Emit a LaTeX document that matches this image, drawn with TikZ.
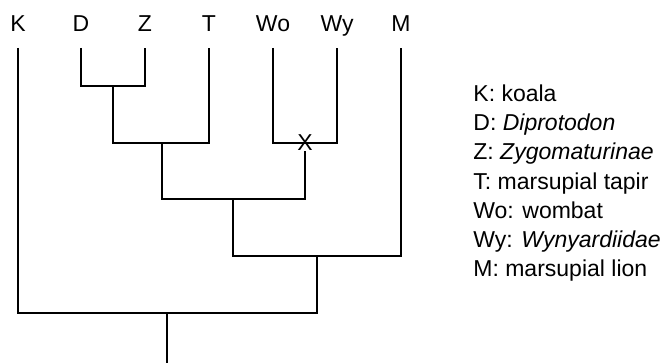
\documentclass[tikz,border=0pt]{standalone}
\usepackage{fontspec}
\setmainfont{Liberation Sans}
\usetikzlibrary{positioning}

\begin{document}
\begin{tikzpicture}[x=0.5pt, y=-0.5pt, font=\fontsize{11.5}{14.5}\selectfont,
          branch/.style={line width=0.6pt},
          taxon/.style={anchor=base, inner sep=0pt},
          keyline/.style={anchor=base west, inner sep=0pt}]
        \useasboundingbox (0,0) rectangle (667,363);
        % taxa along the top
        \foreach \name/\lbl/\x in {k/K/18, d/D/81, z/Z/145, t/T/209, wo/Wo/273, wy/Wy/337, m/M/401} {
          \node[taxon] (\name) at (\x,32) {\lbl};
          \coordinate (\name-tip) at (\x,48);
        }

        % branching points
        \coordinate (dz)   at (113,86);
        \coordinate (dzt)  at (162,143);
        \coordinate (wow)  at (305,143);
        \coordinate (mid)  at (233,199);
        \coordinate (midm) at (317,256);
        \coordinate (root) at (167,313);
        \coordinate (base) at (167,363);

        \node[inner sep=0pt] (xmark) at (wow) {X};

        \draw[branch] (d-tip) |- (dz) -| (z-tip);
        \draw[branch] (dz) |- (dzt) -| (t-tip);
        \draw[branch] (wo-tip) |- (wow) -| (wy-tip);
        \draw[branch] (dzt) |- (mid) -| (xmark.south);
        \draw[branch] (mid) |- (midm) -| (m-tip);
        \draw[branch] (k-tip) |- (root) -| (midm);
        \draw[branch] (root) -- (base);

        % key
        \node[keyline] (key1) at (473,102) {K: koala};
        \node[keyline, below=29*0.5pt of key1.base west, anchor=base west] (key2) {D: \textit{Diprotodon}};
        \node[keyline, below=29*0.5pt of key2.base west, anchor=base west] (key3) {Z: \textit{Zygomaturinae}};
        \node[keyline, below=29*0.5pt of key3.base west, anchor=base west] (key4) {T: marsupial tapir};
        \node[keyline, below=29*0.5pt of key4.base west, anchor=base west] (key5) {Wo: wombat};
        \node[keyline, below=29*0.5pt of key5.base west, anchor=base west] (key6) {Wy: \textit{Wynyardiidae}};
        \node[keyline, below=29*0.5pt of key6.base west, anchor=base west] (key7) {M: marsupial lion};
      \end{tikzpicture}
\end{document}
